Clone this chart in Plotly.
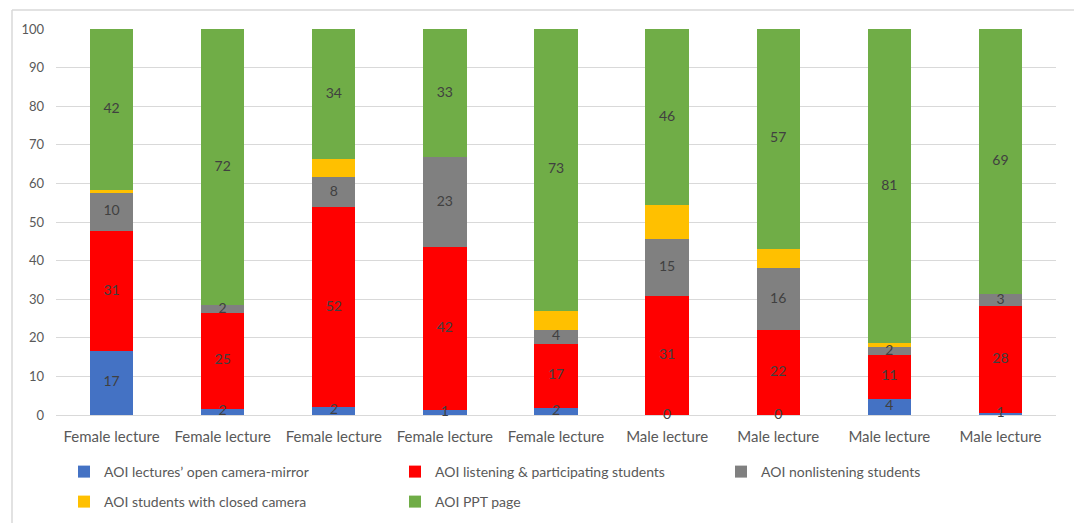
import plotly.graph_objects as go

categories = ["Female lecture", "Female lecture", "Female lecture", "Female lecture", "Female lecture",
              "Male lecture", "Male lecture", "Male lecture", "Male lecture"]

lecturer_mirror = [16.6, 1.6, 2.1, 1.4, 1.8, 0.0, 0.0, 4.2, 0.6]
listening_students = [31.0, 24.9, 51.7, 42.0, 16.7, 30.8, 21.9, 11.3, 27.6]
nonlistening_students = [10.0, 1.9, 7.8, 23.4, 3.6, 14.7, 16.3, 2.0, 3.1]
closed_camera = [0.8, 0.0, 4.6, 0.0, 4.9, 8.9, 4.9, 1.1, 0.0]
ppt_page = [41.6, 71.6, 33.8, 33.2, 73.0, 45.6, 56.9, 81.4, 68.7]

series_names = ["AOI lectures\u2019 open camera-mirror",
                "AOI listening & participating students",
                "AOI nonlistening students",
                "AOI students with closed camera",
                "AOI PPT page"]
series_values = [lecturer_mirror, listening_students, nonlistening_students, closed_camera, ppt_page]
series_colors = ["#4472C4", "#FF0000", "#808080", "#FFC000", "#70AD47"]
show_labels = [True, True, True, False, True]
legend_ids = ["legend", "legend", "legend3", "legend2", "legend2"]

y_ticks = list(range(0, 101, 10))

FONT = "Lato"
x_pos = list(range(len(categories)))

W, H = 1074, 515  # page body adds an 8px offset

fig = go.Figure()
base = [0.0] * len(categories)
label_x, label_y, label_t = [], [], []
for name, vals, col, lab, lg in zip(series_names, series_values, series_colors, show_labels, legend_ids):
    fig.add_trace(go.Bar(
        x=x_pos, y=vals, name=name,
        marker=dict(color=col, line=dict(width=0)),
        width=0.39,
        legend=lg,
        hoverinfo="y+name",
    ))
    if lab:
        for i, v in enumerate(vals):
            label_x.append(x_pos[i])
            label_y.append(base[i] + v / 2)
            label_t.append(f"{round(v)}")
    base = [b + v for b, v in zip(base, vals)]

fig.add_trace(go.Scatter(
    x=label_x, y=label_y, text=label_t, mode="text",
    textposition="middle center",
    textfont=dict(family=FONT, size=14, color="#404040"),
    showlegend=False, hoverinfo="skip", cliponaxis=False,
))

legend_common = dict(
    orientation="h", xref="container", yref="container",
    xanchor="left", yanchor="middle",
    entrywidth=286, entrywidthmode="pixels", traceorder="normal",
    font=dict(family=FONT, size=14, color="#595959"),
    itemclick=False, bgcolor="rgba(0,0,0,0)",
)

row1 = 1 - (472 - 8) / H
row2 = 1 - (502 - 8) / H
col1 = (64 - 8) / W
col3 = (721 - 8) / W

fig.update_layout(
    barmode="stack",
    width=W, height=H,
    margin=dict(l=48, r=26, t=21, b=108, autoexpand=False),
    paper_bgcolor="white", plot_bgcolor="white",
    font=dict(family=FONT, size=13, color="#595959"),
    xaxis=dict(
        tickmode="array", tickvals=x_pos, ticktext=categories,
        range=[-0.5, len(categories) - 0.5],
        showgrid=False, zeroline=False, showline=False,
        tickfont=dict(family=FONT, size=15, color="#595959"),
        ticklabelstandoff=11,
    ),
    yaxis=dict(
        range=[0, 100], tickvals=y_ticks,
        showgrid=True, gridcolor="#d9d9d9", gridwidth=1,
        zeroline=True, zerolinecolor="#d9d9d9", zerolinewidth=1,
        showline=False,
        tickfont=dict(family=FONT, size=13, color="#595959"),
        ticklabelstandoff=11,
    ),
    legend=dict(legend_common, x=col1, y=row1),
    legend2=dict(legend_common, x=col1, y=row2),
    legend3=dict(legend_common, x=col3, y=row1),
    shapes=[
        dict(type="line", xref="paper", yref="paper", x0=-0.044, x1=1.03, y0=1.049, y1=1.049,
             line=dict(color="#d9d9d9", width=1.5)),
        dict(type="line", xref="paper", yref="paper", x0=-0.044, x1=-0.044, y0=1.049, y1=-0.3,
             line=dict(color="#d9d9d9", width=1.5)),
    ],
)

fig.write_html("out.html")
